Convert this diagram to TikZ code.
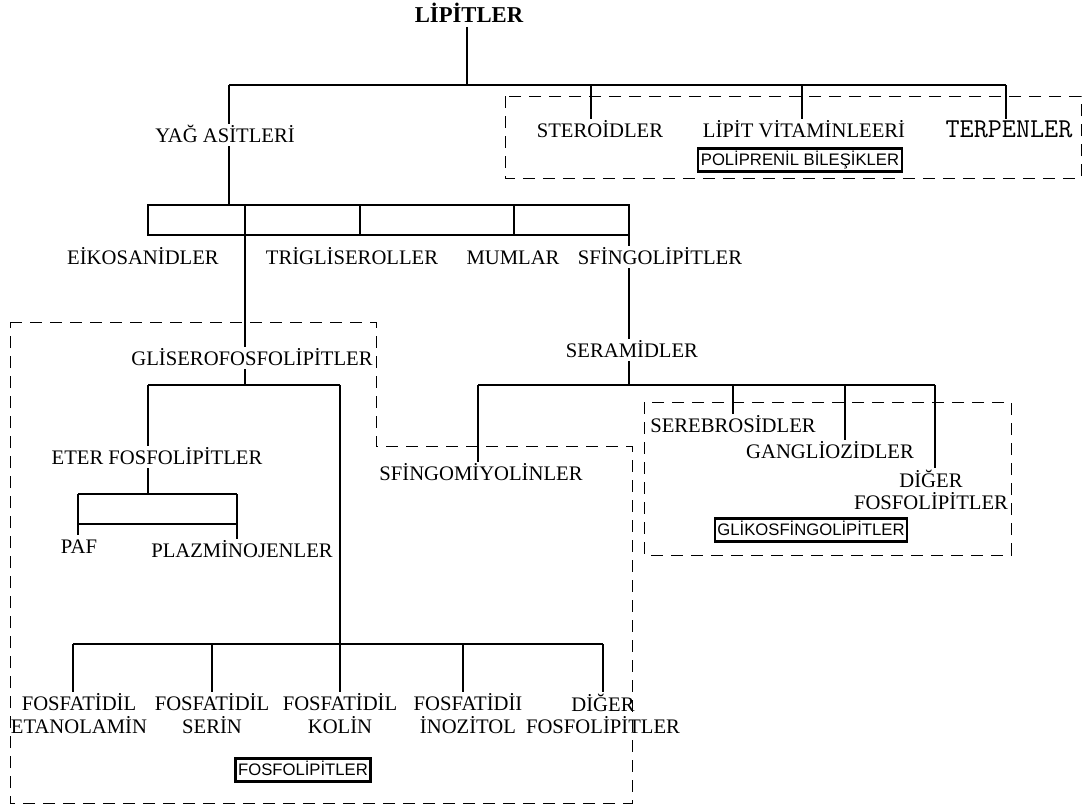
\documentclass[tikz,border=0pt]{standalone}
\usepackage{fontspec}
\setmainfont{Liberation Serif}
\newfontfamily\kutufont{Liberation Sans}
\begin{document}
\begin{tikzpicture}[
      x=0.75pt, y=-0.75pt,
      lbl/.style={
        font=\fontsize{15.5}{17}\selectfont,
        inner xsep=1pt, inner ysep=3pt, text height=10.5pt, text depth=0pt
      },
      lbltwo/.style={
        font=\fontsize{15.5}{17}\selectfont,
        align=center, anchor=north, inner sep=1pt
      },
      grp/.style={
        draw, line width=1.8pt, font=\kutufont\fontsize{12.5}{14}\selectfont,
        inner xsep=2pt, inner ysep=2.5pt, text height=10pt, text depth=2pt
      },
      zone/.style={line width=0.75pt, dash pattern=on 9pt off 6pt},  % dashed groups
      link/.style={line width=0.8pt}                                 % tree lines
    ]
    \useasboundingbox (0,0) rectangle (1089,811);

    % Dashed group outlines.
    \draw[zone] (505,96) rectangle (1081,178);
    \draw[zone] (10,322) -- (376,322) -- (376,446) -- (632,446) -- (632,803) -- (10,803) -- cycle;
    \draw[zone] (644,402) rectangle (1011,555);

    % Top level and poliprenil branch.
    \node[lbl, font=\bfseries\fontsize{17}{19}\selectfont, text height=11.5pt] (lip) at (469,15) {LİPİTLER};
    \node[lbl]  (yag) at (225,135) {YAĞ ASİTLERİ};
    \node[lbl]  (ste) at (600,130) {STEROİDLER};
    \node[lbl]  (vit) at (804,130) {LİPİT VİTAMİNLEERİ};
    \node[lbl, font=\ttfamily\fontsize{20.5}{22}\selectfont] (ter) at (1009,130) {TERPENLER};
    \node[grp]  (poli) at (800,160) {POLİPRENİL BİLEŞİKLER};

    \coordinate (b0) at (467,85);
    \coordinate (bY) at (229,85);
    \coordinate (bS) at (591,85);
    \coordinate (bV) at (802,85);
    \coordinate (bT) at (1006,85);
    \draw[link] (b0 |- lip.south) -- (b0);
    \draw[link] (bY) -- (bT);
    \draw[link] (bY) -- (bY |- yag.north);
    \draw[link] (bS) -- (bS |- ste.north);
    \draw[link] (bV) -- (bV |- vit.north);
    \draw[link] (bT) -- (bT |- ter.north);

    % Fatty acid row.
    \node[lbl]  (eik) at (143,257) {EİKOSANİDLER};
    \node[lbl]  (tri) at (352,257) {TRİGLİSEROLLER};
    \node[lbl]  (mum) at (513,257) {MUMLAR};
    \node[lbl]  (sfi) at (660,257) {SFİNGOLİPİTLER};

    \coordinate (r0) at (148,205);
    \coordinate (r1) at (245,205);
    \coordinate (r2) at (360,205);
    \coordinate (r3) at (514,205);
    \coordinate (r4) at (629,235);
    \draw[link] (bY |- yag.south) -- (bY |- r0);
    \draw[link] (r0) rectangle (r4);
    \draw[link] (r2) -- (r2 |- r4);
    \draw[link] (r3) -- (r3 |- r4);

    % Glycerophospholipids.
    \node[lbl]  (gli) at (252,358) {GLİSEROFOSFOLİPİTLER};
    \node[lbl]  (eter) at (157,457) {ETER FOSFOLİPİTLER};
    \node[lbl]  (paf) at (79,546) {PAF};
    \node[lbl]  (plz) at (242,550) {PLAZMİNOJENLER};
    \draw[link] (r1) -- (r1 |- gli.north);

    \coordinate (g0) at (245,385);
    \coordinate (gL) at (148,385);
    \coordinate (gR) at (340,385);
    \draw[link] (g0 |- gli.south) -- (g0);
    \draw[link] (gL) -- (gR);
    \draw[link] (gL) -- (gL |- eter.north);

    \coordinate (p0) at (148,494);
    \coordinate (p1) at (78,494);
    \coordinate (p2) at (237,494);
    \coordinate (q1) at (78,524);
    \coordinate (q2) at (237,524);
    \draw[link] (gL |- eter.south) -- (p0);
    \draw[link] (p1) -- (p2);
    \draw[link] (q1) -- (q2);
    \draw[link] (p1) -- (p1 |- paf.north);
    \draw[link] (p2) -- (p2 |- plz.north);

    % Phosphatidyl row.
    \node[lbltwo] (fe) at (79,692)  {FOSFATİDİL\\ETANOLAMİN};
    \node[lbltwo] (fs) at (212,692) {FOSFATİDİL\\SERİN};
    \node[lbltwo] (fk) at (340,692) {FOSFATİDİL\\KOLİN};
    \node[lbltwo] (fi) at (468,692) {FOSFATİDİI\\İNOZİTOL};
    \node[lbltwo] (fd) at (603,692) {DİĞER\\FOSFOLİPİTLER};
    \node[grp]    (fos) at (303,770) {FOSFOLİPİTLER};

    \coordinate (f0) at (73,644);
    \coordinate (f1) at (212,644);
    \coordinate (f3) at (463,644);
    \coordinate (f4) at (603,644);
    \draw[link] (f0) -- (f4);
    \draw[link] (gR) -- (gR |- fk.north);
    \draw[link] (f0) -- (f0 |- fe.north);
    \draw[link] (f1) -- (f1 |- fs.north);
    \draw[link] (f3) -- (f3 |- fi.north);
    \draw[link] (f4) -- (f4 |- fd.north);

    % Sphingolipids.
    \node[lbl]  (ser) at (632,350) {SERAMİDLER};
    \node[lbl]  (sfm) at (481,473) {SFİNGOMİYOLİNLER};
    \node[lbl]  (seb) at (733,425) {SEREBROSİDLER};
    \node[lbl]  (gan) at (830,451) {GANGLİOZİDLER};
    \node[lbltwo] (dig) at (931,468) {DİĞER\\FOSFOLİPİTLER};
    \node[grp]  (glk) at (811,530) {GLİKOSFİNGOLİPİTLER};

    \draw[link] (r4) -- (r4 |- sfi.north);
    \draw[link] (r4 |- sfi.south) -- (r4 |- ser.north);

    \coordinate (s0) at (629,385);
    \coordinate (s1) at (478,385);
    \coordinate (s2) at (733,385);
    \coordinate (s3) at (845,385);
    \coordinate (s4) at (935,385);
    \draw[link] (s0 |- ser.south) -- (s0);
    \draw[link] (s1) -- (s4);
    \draw[link] (s1) -- (s1 |- sfm.north);
    \draw[link] (s2) -- (s2 |- seb.north);
    \draw[link] (s3) -- (s3 |- gan.north);
    \draw[link] (s4) -- (s4 |- dig.north);
  \end{tikzpicture}
\end{document}
